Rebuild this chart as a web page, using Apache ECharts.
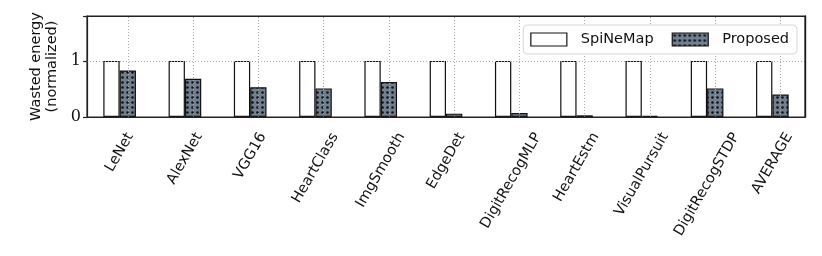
<!DOCTYPE html>
<html>
<head>
<meta charset="utf-8">
<script src="https://cdn.jsdelivr.net/npm/echarts@6/dist/echarts.min.js"></script>
<style>html,body{margin:0;padding:0;background:#fff}#c{width:822px;height:256px}</style>
</head>
<body>
<div id="c"></div>
<script>
const categories = ['LeNet','AlexNet','VGG16','HeartClass','ImgSmooth','EdgeDet','DigitRecogMLP','HeartEstm','VisualPursuit','DigitRecogSTDP','AVERAGE'];
const spinemap = [1,1,1,1,1,1,1,1,1,1,1];
const proposed = [0.83,0.68,0.53,0.51,0.625,0.06,0.07,0.03,0.02,0.51,0.40];
const yTicks = [0,1];

const sans = 'DejaVu Sans';
const labelSize = 14.5;

function dotPattern(){
  const c = document.createElement('canvas');
  c.width = 5; c.height = 5;
  const g = c.getContext('2d');
  g.fillStyle = '#708090';
  g.fillRect(0,0,5,5);
  g.fillStyle = '#111';
  g.beginPath(); g.arc(2.5,2.5,1.3,0,Math.PI*2); g.fill();
  return c;
}
const pat = {image: dotPattern(), repeat: 'repeat'};

const mctx = document.createElement('canvas').getContext('2d');
mctx.font = labelSize + 'px "' + sans + '"';
function textLen(s){ return mctx.measureText(s).width; }

const ang = 60 * Math.PI / 180;
function renderLabel(params, api){
  const idx = api.value(0);
  const p = api.coord([idx, 0]);
  const name = categories[idx];
  const L = textLen(name);
  const h = 12;
  const bboxH = L * Math.sin(ang) + h * Math.cos(ang);
  return {
    type: 'text',
    x: p[0], y: p[1] + 14 + bboxH / 2,
    rotation: ang,
    style: {text: name, align: 'center', verticalAlign: 'middle',
            fontFamily: sans, fontSize: labelSize, fill: '#111'}
  };
}

const gridLineStyle = {color: '#a8a8a8', type: [1, 2], width: 1};
const gridMarks = categories.map(c => ({xAxis: c})).concat(yTicks.filter(v => v > 0).map(v => ({yAxis: v})));

const chart = echarts.init(document.getElementById('c'), null, {renderer:'canvas'});
chart.setOption({
  animation: false,
  grid: {left: 87, right: 17, top: 16, bottom: 139, show: true, z: 10,
         backgroundColor: 'rgba(0,0,0,0)', borderColor: '#222', borderWidth: 1.2},
  legend: {
    right: 25, top: 25, z: 20,
    backgroundColor: '#fff', borderColor: '#d6d6d6', borderWidth: 1, borderRadius: 4,
    padding: [7, 8, 7, 7],
    itemWidth: 36, itemHeight: 13, itemGap: 18,
    textStyle: {fontFamily: sans, fontSize: 14.5, color: '#111', padding: [0,0,0,9]},
    data: [
      {name: 'SpiNeMap', icon: 'rect', itemStyle: {color: '#fff', borderColor: '#111', borderWidth: 1.2}},
      {name: 'Proposed', icon: 'rect', itemStyle: {color: pat, borderColor: '#111', borderWidth: 1.2}}
    ]
  },
  xAxis: [{
    type: 'category', data: categories,
    axisLine: {onZero: false, lineStyle: {color: '#222', width: 1.2}},
    axisTick: {alignWithLabel: true, interval: 0, length: 4, lineStyle: {color: '#222', width: 1.2}},
    splitLine: {show: false},
    axisLabel: {show: false, interval: 0}
  }, {
    type: 'category', data: categories, position: 'top',
    axisLine: {show: true, onZero: false, lineStyle: {color: '#222', width: 1.2}},
    axisTick: {show: false}, axisLabel: {show: false}, splitLine: {show: false}
  }],
  yAxis: [{
    type: 'value', min: 0, max: 1.8, interval: 1,
    name: 'Wasted energy\n(normalized)', nameLocation: 'middle', nameGap: 25,
    nameTextStyle: {fontFamily: sans, fontSize: 14.5, color: '#111', lineHeight: 16},
    axisLine: {show: true, onZero: false, lineStyle: {color: '#222', width: 1.2}},
    axisTick: {show: true, length: 4, lineStyle: {color: '#222', width: 1.2}},
    splitLine: {show: false},
    axisLabel: {fontFamily: 'DejaVu Serif', fontSize: 16, color: '#111', margin: 6,
      formatter: v => yTicks.indexOf(v) >= 0 ? String(v) : ''}
  }, {
    type: 'value', min: 0, max: 1.8, interval: 1, position: 'right',
    axisLine: {show: true, onZero: false, lineStyle: {color: '#111', width: 1.4}},
    axisTick: {show: false}, axisLabel: {show: false}, splitLine: {show: false}
  }],
  series: [
    {name: 'SpiNeMap', type: 'bar', data: spinemap, barGap: '0%', barCategoryGap: '50%',
     itemStyle: {color: '#fff', borderColor: '#111', borderWidth: 1.2}},
    {name: 'Proposed', type: 'bar', data: proposed,
     itemStyle: {color: pat, borderColor: '#111', borderWidth: 1.2},
     markLine: {symbol: 'none', silent: true, animation: false, label: {show: false},
       lineStyle: gridLineStyle, emphasis: {disabled: true}, data: gridMarks}},
    {name: 'labels', type: 'custom', clip: false, silent: true,
     data: categories.map((c, i) => [i, 0]),
     encode: {x: 0, y: 1},
     renderItem: renderLabel}
  ]
});
</script>
</body>
</html>
